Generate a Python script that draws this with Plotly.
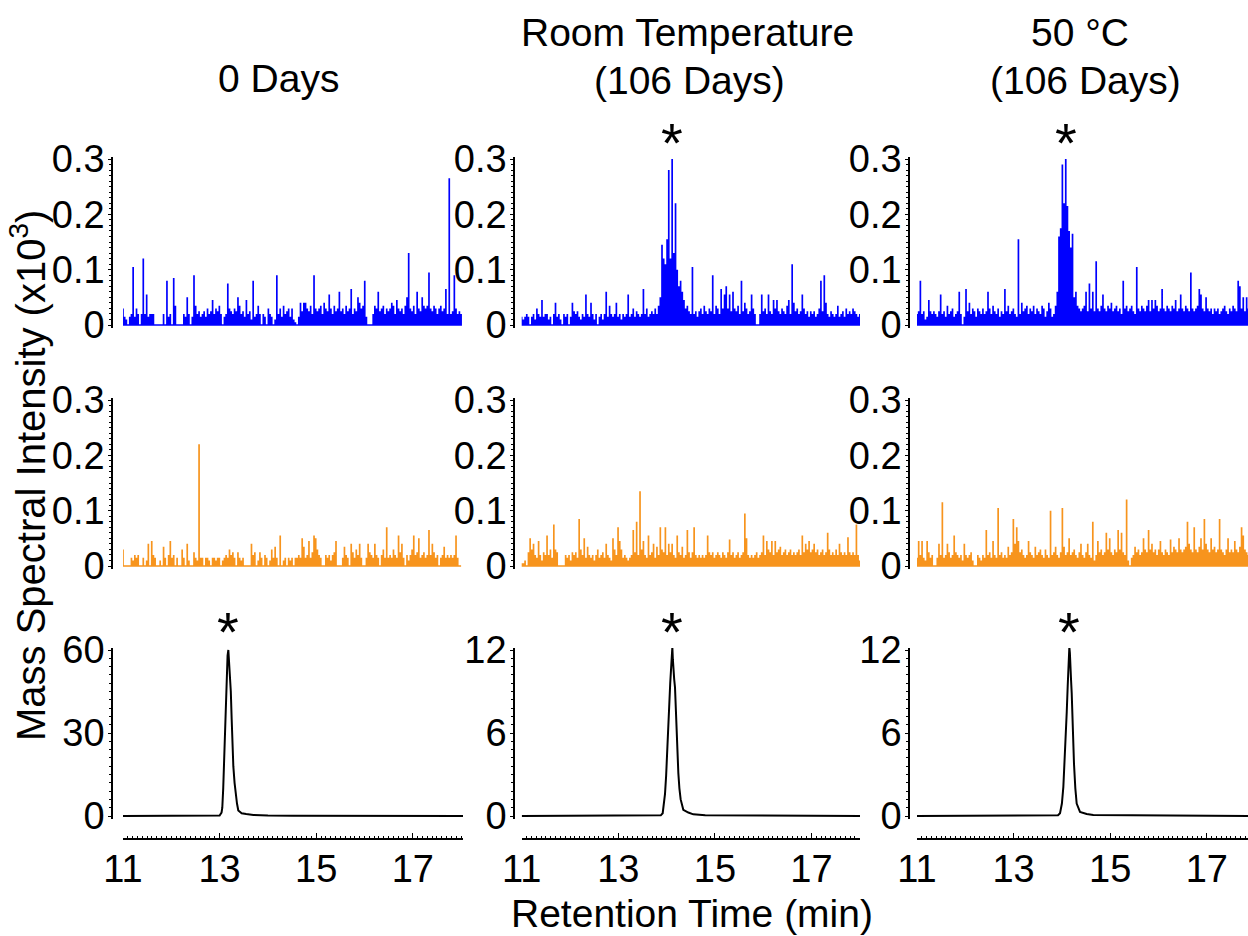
import plotly.graph_objects as go

# ---------------------------------------------------------------------------
# Extracted-ion traces sampled every DT minutes from T0 (intensity in counts)
# ---------------------------------------------------------------------------
T0 = 11.0
DT = 0.035

blue_0d = [
    30, 15, 10, 0, 15, 20, 105, 15, 30, 20,
    0, 20, 120, 20, 55, 15, 20, 20, 20, 0,
    0, 0, 0, 0, 20, 0, 80, 15, 20, 0,
    85, 35, 0, 0, 0, 0, 20, 15, 50, 20,
    0, 15, 90, 35, 20, 25, 15, 20, 25, 15,
    30, 20, 25, 45, 20, 30, 25, 35, 20, 0,
    15, 20, 75, 30, 25, 20, 30, 25, 50, 35,
    20, 25, 15, 45, 20, 25, 10, 80, 15, 20,
    35, 20, 0, 20, 15, 0, 30, 20, 15, 0,
    10, 90, 20, 30, 15, 35, 20, 25, 30, 15,
    30, 10, 5, 0, 15, 40, 25, 40, 40, 30,
    25, 35, 20, 90, 30, 25, 30, 35, 20, 40,
    30, 25, 55, 30, 20, 35, 25, 30, 60, 25,
    30, 20, 35, 25, 30, 65, 20, 30, 25, 50,
    40, 30, 35, 80, 15, 0, 0, 0, 20, 35,
    30, 60, 25, 30, 35, 20, 30, 25, 30, 40,
    35, 20, 45, 30, 25, 30, 20, 35, 50, 130,
    30, 25, 35, 20, 60, 30, 25, 50, 35, 30,
    35, 95, 30, 25, 35, 30, 20, 30, 35, 25,
    30, 65, 20, 265, 20, 25, 90, 30, 20, 25,
    20,
]

blue_rt = [
    15, 10, 15, 20, 15, 0, 15, 20, 10, 30,
    20, 15, 45, 15, 20, 20, 10, 15, 0, 20,
    40, 15, 20, 10, 0, 20, 15, 20, 0, 15,
    40, 25, 20, 25, 15, 10, 20, 15, 55, 20,
    15, 40, 20, 10, 20, 0, 15, 20, 10, 20,
    60, 15, 35, 20, 15, 20, 40, 15, 20, 10,
    20, 15, 20, 55, 15, 20, 30, 15, 25, 20,
    15, 20, 65, 20, 30, 15, 20, 25, 20, 30,
    20, 35, 50, 145, 120, 110, 155, 280, 120, 300,
    130, 220, 100, 70, 80, 60, 45, 30, 35, 25,
    20, 105, 20, 25, 15, 25, 30, 20, 35, 25,
    20, 30, 25, 90, 20, 35, 30, 20, 65, 30,
    55, 70, 30, 55, 25, 60, 30, 25, 35, 20,
    80, 25, 40, 30, 20, 25, 55, 30, 20, 0,
    0, 20, 55, 25, 30, 20, 55, 25, 20, 45,
    30, 45, 25, 20, 30, 25, 20, 35, 45, 20,
    110, 40, 25, 30, 20, 25, 55, 30, 20, 25,
    15, 25, 20, 25, 15, 20, 30, 80, 25, 90,
    40, 20, 15, 25, 20, 15, 20, 35, 15, 20,
    25, 15, 30, 20, 25, 20, 30, 25, 20, 15,
    20,
]

blue_50c = [
    20, 25, 80, 20, 25, 10, 15, 45, 25, 20,
    25, 20, 15, 25, 55, 20, 25, 15, 35, 20,
    25, 30, 15, 20, 25, 60, 20, 0, 15, 65,
    25, 40, 20, 30, 25, 15, 30, 25, 20, 30,
    20, 25, 60, 30, 20, 35, 25, 20, 30, 15,
    25, 20, 65, 25, 35, 20, 25, 30, 20, 15,
    155, 20, 40, 25, 30, 35, 20, 30, 25, 35,
    20, 30, 25, 20, 35, 30, 15, 25, 40, 30,
    15, 20, 35, 60, 160, 175, 290, 220, 300, 215,
    170, 140, 165, 50, 60, 35, 30, 25, 30, 35,
    60, 25, 75, 30, 60, 25, 115, 30, 25, 35,
    55, 30, 25, 35, 30, 40, 25, 30, 35, 25,
    30, 20, 80, 30, 35, 25, 30, 35, 25, 20,
    105, 30, 25, 35, 30, 25, 35, 45, 25, 45,
    30, 45, 35, 25, 30, 65, 30, 25, 35, 30,
    25, 35, 30, 45, 25, 30, 55, 30, 25, 35,
    30, 25, 95, 30, 25, 30, 35, 65, 55, 30,
    25, 50, 30, 25, 30, 20, 30, 25, 30, 20,
    25, 30, 35, 25, 20, 30, 25, 35, 30, 25,
    80, 70, 30, 50, 25, 50, 30, 25, 30, 25,
    20,
]

orange_0d = [
    30, 0, 0, 0, 0, 15, 10, 20, 15, 20,
    0, 0, 15, 0, 10, 40, 0, 45, 20, 15,
    0, 0, 10, 0, 35, 15, 0, 20, 45, 15,
    20, 0, 15, 0, 0, 30, 15, 0, 40, 10,
    0, 0, 25, 15, 10, 220, 15, 15, 0, 15,
    15, 10, 0, 15, 15, 10, 15, 15, 0, 10,
    15, 20, 15, 30, 20, 25, 15, 0, 25, 15,
    10, 15, 0, 0, 0, 0, 40, 20, 25, 0,
    10, 25, 15, 0, 20, 15, 0, 10, 30, 15,
    35, 15, 0, 55, 0, 10, 15, 0, 15, 10,
    15, 0, 15, 15, 20, 15, 50, 35, 15, 20,
    45, 15, 25, 55, 50, 30, 20, 15, 0, 0,
    20, 15, 20, 10, 20, 25, 45, 0, 0, 0,
    15, 35, 20, 15, 0, 40, 25, 15, 30, 20,
    40, 15, 0, 0, 15, 40, 25, 20, 15, 40,
    20, 15, 0, 20, 30, 15, 70, 15, 20, 15,
    30, 20, 15, 55, 25, 40, 15, 0, 20, 10,
    20, 30, 55, 20, 25, 50, 15, 20, 25, 15,
    20, 65, 20, 40, 25, 15, 20, 0, 15, 20,
    35, 15, 20, 15, 20, 15, 20, 55, 15, 0,
    0,
]

orange_rt = [
    5, 5, 10, 0, 25, 50, 30, 40, 20, 15,
    45, 20, 10, 25, 20, 55, 20, 30, 15, 75,
    30, 25, 0, 0, 0, 0, 20, 15, 20, 10,
    25, 20, 25, 15, 85, 30, 20, 50, 15, 35,
    20, 15, 20, 10, 20, 30, 15, 20, 25, 15,
    40, 20, 15, 10, 50, 30, 20, 70, 45, 30,
    15, 20, 15, 10, 15, 20, 65, 25, 80, 20,
    135, 30, 45, 20, 15, 55, 20, 25, 40, 15,
    35, 20, 70, 30, 25, 70, 20, 40, 25, 40,
    20, 15, 55, 25, 20, 35, 15, 20, 65, 25,
    15, 25, 70, 20, 15, 20, 15, 20, 15, 20,
    55, 25, 20, 25, 15, 20, 25, 20, 15, 25,
    20, 15, 25, 48, 20, 25, 15, 20, 25, 15,
    20, 25, 95, 50, 20, 15, 20, 15, 20, 25,
    15, 20, 25, 55, 20, 45, 30, 25, 45, 20,
    45, 25, 30, 35, 20, 25, 30, 20, 25, 30,
    20, 25, 20, 25, 30, 20, 55, 25, 40, 30,
    45, 25, 30, 40, 25, 30, 20, 25, 30, 20,
    25, 60, 30, 20, 25, 20, 30, 20, 40, 25,
    20, 25, 20, 52, 25, 20, 25, 20, 75, 20,
    10,
]

orange_50c = [
    15, 45, 20, 45, 15, 10, 45, 25, 15, 20,
    0, 0, 15, 40, 20, 115, 15, 20, 40, 25,
    15, 20, 55, 25, 20, 15, 20, 10, 40, 20,
    15, 20, 25, 10, 0, 0, 20, 15, 10, 20,
    15, 65, 20, 25, 15, 45, 20, 15, 105, 20,
    25, 15, 20, 15, 35, 20, 25, 85, 40, 70,
    45, 25, 30, 20, 15, 20, 45, 25, 20, 15,
    35, 20, 25, 30, 20, 15, 30, 20, 15, 100,
    20, 25, 35, 20, 15, 25, 105, 35, 20, 25,
    50, 20, 25, 30, 20, 15, 25, 40, 20, 15,
    25, 40, 20, 15, 80, 10, 20, 45, 25, 30,
    20, 25, 60, 30, 50, 25, 20, 30, 25, 65,
    30, 60, 25, 20, 120, 10, 0, 15, 20, 35,
    25, 30, 20, 25, 50, 30, 25, 65, 30, 40,
    25, 30, 20, 30, 45, 25, 20, 30, 25, 20,
    48, 25, 35, 30, 25, 50, 30, 25, 30, 35,
    80, 40, 30, 25, 70, 30, 25, 35, 50, 30,
    85, 40, 30, 25, 50, 30, 35, 25, 30, 85,
    30, 25, 20, 30, 50, 25, 30, 25, 45, 30,
    25, 35, 70, 55, 30, 25, 20, 25, 20, 15,
    20,
]

# ---------------------------------------------------------------------------
# Reference-compound chromatograms (retention time in min, intensity x10^3)
# ---------------------------------------------------------------------------
peak_t_0d = [11.0, 13.0, 13.04, 13.056, 13.075, 13.091, 13.11, 13.126, 13.147, 13.165,
             13.181, 13.198, 13.215, 13.232, 13.25, 13.267, 13.284, 13.31, 13.333,
             13.36, 13.387, 13.457, 13.55, 13.70, 14.0, 14.5, 18.1]
peak_i_0d = [0.0, 0.2, 1.2, 3.0, 10.0, 20.0, 31.0, 41.0, 55.0, 58.0,
             60.0, 55.0, 54.0, 45.0, 35.0, 26.0, 18.0, 12.0, 8.0,
             4.5, 2.0, 1.0, 0.7, 0.4, 0.2, 0.1, 0.0]

peak_t_rt = [11.0, 13.88, 13.919, 13.945, 13.967, 13.99, 14.015, 14.036, 14.056, 14.075,
             14.091, 14.108, 14.119, 14.130, 14.140, 14.157, 14.174, 14.19, 14.209,
             14.225, 14.243, 14.265, 14.291, 14.346, 14.45, 14.553, 14.8, 18.1]
peak_i_rt = [0.0, 0.05, 0.2, 0.8, 1.6, 2.9, 4.5, 6.3, 8.1, 9.6,
             10.8, 11.8, 12.2, 11.3, 10.4, 9.9, 9.3, 7.6, 5.7,
             4.3, 3.1, 2.0, 1.2, 0.45, 0.25, 0.12, 0.05, 0.0]

peak_t_50c = [11.0, 13.92, 13.961, 14.0, 14.03, 14.055, 14.078, 14.10, 14.12, 14.138,
              14.154, 14.165, 14.175, 14.19, 14.203, 14.225, 14.25, 14.278, 14.306,
              14.375, 14.513, 14.65, 18.1]
peak_i_50c = [0.0, 0.05, 0.2, 0.9, 2.1, 3.7, 5.5, 7.5, 9.4, 11.0,
              12.2, 11.8, 10.5, 9.8, 8.9, 6.3, 3.8, 2.0, 0.9,
              0.3, 0.15, 0.08, 0.0]

column_titles = [["0 Days"], ["Room Temperature", "(106 Days)"], ["50 °C", "(106 Days)"]]
x_tick_vals = [11, 13, 15, 17]
x_tick_text = ["11", "13", "15", "17"]

BLUE = "#0000FF"
ORANGE = "#F7941D"
BLACK = "#000000"
FONT = "Liberation Sans, Arial, sans-serif"

# ---------------------------------------------------------------------------
# Page geometry (pixels)
# ---------------------------------------------------------------------------
W, H = 1248, 936
PX_PER_MIN = 48.3
col_left = [123.0, 521.7, 917.0]      # plot left edge (t = 11 min)
col_right = [463.0, 860.0, 1248.0]
yline_px = [112.0, 514.0, 909.0]      # detached y-axis lines
row_top = [159.0, 400.0, 650.0]       # top tick of each row
row_bot = [325.0, 566.0, 816.0]       # zero of each row
xline_px = 839.0                      # detached x-axis line of the bottom row


def fx(px):
    return px / W


def fy(py):
    return 1.0 - py / H


def stems(counts):
    """Vertical stick trace (in x10^3) drawn from a zero baseline."""
    xs, ys = [], []
    for k, c in enumerate(counts):
        t = T0 + k * DT
        v = c / 1000.0
        xs += [t, t, t]
        ys += [0.0, v, 0.0]
    return xs, ys


traces = [
    [(blue_0d, BLUE, "stem"), (blue_rt, BLUE, "stem"), (blue_50c, BLUE, "stem")],
    [(orange_0d, ORANGE, "stem"), (orange_rt, ORANGE, "stem"), (orange_50c, ORANGE, "stem")],
    [((peak_t_0d, peak_i_0d), BLACK, "line"), ((peak_t_rt, peak_i_rt), BLACK, "line"),
     ((peak_t_50c, peak_i_50c), BLACK, "line")],
]

y_ticks = [
    [([0, 0.1, 0.2, 0.3], ["0", "0.1", "0.2", "0.3"], 0.01, 0.3)] * 3,
    [([0, 0.1, 0.2, 0.3], ["0", "0.1", "0.2", "0.3"], 0.01, 0.3)] * 3,
    [([0, 30, 60], ["0", "30", "60"], 3, 60),
     ([0, 6, 12], ["0", "6", "12"], 0.6, 12),
     ([0, 6, 12], ["0", "6", "12"], 0.6, 12)],
]

fig = go.Figure()
layout = {}
tick_font = dict(family=FONT, size=38, color=BLACK)

for r in range(3):
    for c in range(3):
        idx = r * 3 + c + 1
        xname = "x" if idx == 1 else f"x{idx}"
        yname = "y" if idx == 1 else f"y{idx}"
        data, color, kind = traces[r][c]
        if kind == "stem":
            xs, ys = stems(data)
            fig.add_trace(go.Scatter(x=xs, y=ys, mode="lines", xaxis=xname, yaxis=yname,
                                     line=dict(color=color, width=1.7), hoverinfo="skip",
                                     showlegend=False))
        else:
            fig.add_trace(go.Scatter(x=data[0], y=data[1], mode="lines", xaxis=xname,
                                     yaxis=yname, line=dict(color=color, width=2.0),
                                     hoverinfo="skip", showlegend=False))

        tickvals, ticktext, minor_dt, ymax = y_ticks[r][c]
        scale = (row_bot[r] - row_top[r]) / ymax          # px per unit
        pad_lo, pad_hi = 2.5 / scale, 2.0 / scale
        dom_y = [fy(row_bot[r] + 2.5), fy(row_top[r] - 2.0)]
        x_span = (col_right[c] - col_left[c]) / PX_PER_MIN

        xax = dict(domain=[fx(col_left[c]), fx(col_right[c])], range=[T0, T0 + x_span],
                   anchor=yname, showgrid=False, zeroline=False, fixedrange=True,
                   automargin=False)
        if r == 2:
            xax.update(anchor="free", position=fy(xline_px), showline=True, linecolor=BLACK,
                       linewidth=1.6, ticks="inside", ticklen=5, tickwidth=1.4,
                       tickcolor=BLACK, tickmode="array", tickvals=x_tick_vals,
                       ticktext=x_tick_text, tickfont=tick_font, ticklabelstandoff=-3,
                       minor=dict(dtick=0.1, tick0=11, ticks="inside", ticklen=2.5,
                                  tickwidth=1, tickcolor=BLACK))
        else:
            xax.update(visible=False)

        yax = dict(domain=dom_y, range=[-pad_lo, ymax + pad_hi], anchor="free",
                   position=fx(yline_px[c]), showgrid=False, zeroline=False,
                   showline=True, linecolor=BLACK, linewidth=1.6, ticks="outside",
                   ticklen=3, tickwidth=1.4, tickcolor=BLACK, tickmode="array",
                   tickvals=tickvals, ticktext=ticktext, tickfont=tick_font,
                   ticklabelstandoff=-4, fixedrange=True, automargin=False,
                   minor=dict(dtick=minor_dt, tick0=0, ticks="outside", ticklen=2,
                              tickwidth=1, tickcolor=BLACK))
        layout["xaxis" if idx == 1 else f"xaxis{idx}"] = xax
        layout["yaxis" if idx == 1 else f"yaxis{idx}"] = yax

annotations = []
title_font = dict(family=FONT, size=39, color=BLACK)

# Column headings
heading_pos = [[(278, 78)], [(687, 33), (689, 80)], [(1080, 33), (1085, 80)]]
for c in range(3):
    for text, (px, py) in zip(column_titles[c], heading_pos[c]):
        annotations.append(dict(text=text, x=fx(px), y=fy(py), xref="paper", yref="paper",
                                xanchor="center", yanchor="middle", showarrow=False,
                                font=title_font))

# Axis titles
annotations.append(dict(text="Mass Spectral Intensity (x10<sup>3</sup>)", x=fx(28), y=fy(476),
                        xref="paper", yref="paper", textangle=-90, xanchor="center",
                        yanchor="middle", showarrow=False,
                        font=dict(family=FONT, size=40, color=BLACK)))
annotations.append(dict(text="Retention Time (min)", x=fx(692), y=fy(913), xref="paper",
                        yref="paper", xanchor="center", yanchor="middle", showarrow=False,
                        font=title_font))

# Asterisks above the analyte peaks
star_font = dict(family=FONT, size=56, color=BLACK)
for c, counts in ((1, blue_rt), (2, blue_50c)):
    k = max(range(len(counts)), key=lambda i: counts[i])
    xname = f"x{c + 1}"
    annotations.append(dict(text="*", x=T0 + k * DT, y=fy(142), xref=xname, yref="paper",
                            xanchor="center", yanchor="middle", showarrow=False,
                            font=star_font))
for c, (tt, ii) in enumerate(((peak_t_0d, peak_i_0d), (peak_t_rt, peak_i_rt),
                              (peak_t_50c, peak_i_50c))):
    k = max(range(len(ii)), key=lambda i: ii[i])
    xname = f"x{7 + c}"
    annotations.append(dict(text="*", x=tt[k], y=fy(631), xref=xname, yref="paper",
                            xanchor="center", yanchor="middle", showarrow=False,
                            font=star_font))

fig.update_layout(template="none", width=W, height=H,
                  margin=dict(l=0, r=0, t=0, b=0, pad=0, autoexpand=False),
                  paper_bgcolor="white", plot_bgcolor="white",
                  annotations=annotations, showlegend=False, **layout)

fig.write_html("out.html", config={"displayModeBar": False})
